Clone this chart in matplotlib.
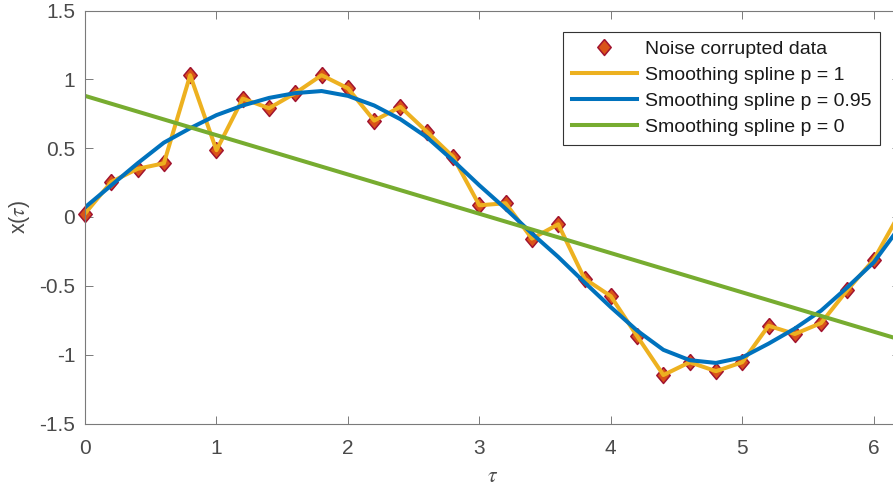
"""Smoothing spline fits of noise corrupted samples of a sine wave."""

import matplotlib
matplotlib.use("Agg")
import matplotlib.pyplot as plt

# sample positions and noisy samples (the p = 1 spline interpolates them)
tau = [0.0, 0.2, 0.4, 0.6, 0.8, 1.0, 1.2, 1.4, 1.6, 1.8, 2.0, 2.2, 2.4, 2.6, 2.8, 3.0,
       3.2, 3.4, 3.6, 3.8, 4.0, 4.2, 4.4, 4.6, 4.8, 5.0, 5.2, 5.4, 5.6, 5.8, 6.0, 6.2]
x_noisy = [0.025, 0.255, 0.35, 0.39, 1.03, 0.485, 0.86, 0.79, 0.90, 1.03, 0.935, 0.70,
           0.80, 0.62, 0.437, 0.085, 0.10, -0.157, -0.053, -0.448, -0.575, -0.865,
           -1.148, -1.055, -1.12, -1.055, -0.79, -0.85, -0.77, -0.53, -0.31, 0.03]

# p = 0.95 smoothing spline evaluated at the sample positions
x_p095 = [0.07, 0.23, 0.39, 0.54, 0.645, 0.74, 0.81, 0.865, 0.90, 0.915, 0.88, 0.81,
          0.71, 0.58, 0.41, 0.23, 0.06, -0.12, -0.29, -0.475, -0.655, -0.825,
          -0.965, -1.04, -1.06, -1.02, -0.92, -0.81, -0.68, -0.51, -0.33, -0.07]

# p = 0 smoothing spline is the least-squares line
tau_line = [0.0, 6.2]
x_p0 = [0.88, -0.89]

labels = ["Noise corrupted data", "Smoothing spline p = 1",
          "Smoothing spline p = 0.95", "Smoothing spline p = 0"]

TEXT = "#4a4a4a"
AXIS = "#7a7a7a"

plt.rcParams["font.family"] = ["Liberation Sans", "DejaVu Sans"]
plt.rcParams["mathtext.fontset"] = "stix"

W, H = 893, 488
fig = plt.figure(figsize=(W / 100, H / 100), dpi=100)
# right edge sits just past the figure border, as in the saved export
ax = fig.add_axes([85 / W, (H - 423.5) / H, 815 / W, 413 / H])

diamond = [(0, 1), (0.84, 0), (0, -1), (-0.84, 0), (0, 1)]
ax.plot(tau, x_noisy, linestyle="none", marker=diamond, markersize=11.5,
        markerfacecolor="#D95319", markeredgecolor="#A2142F", markeredgewidth=1.1,
        label=labels[0], clip_on=False)
ax.plot(tau, x_noisy, color="#EDB120", lw=2.9, label=labels[1])
ax.plot(tau, x_p095, color="#0072BD", lw=2.9, label=labels[2])
ax.plot(tau_line, x_p0, color="#77AC30", lw=2.9, label=labels[3])

ax.set_xlim(0, 6.2)
ax.set_ylim(-1.5, 1.5)
ax.set_xticks([0, 1, 2, 3, 4, 5, 6])
ax.set_yticks([-1.5, -1, -0.5, 0, 0.5, 1, 1.5])
ax.set_yticklabels(["-1.5", "-1", "-0.5", "0", "0.5", "1", "1.5"])

ax.tick_params(direction="in", length=5.8, width=0.7, color=AXIS,
               labelcolor=TEXT, labelsize=15, top=True, right=True)
ax.tick_params(axis="x", pad=11)
ax.tick_params(axis="y", pad=7)
for side in ax.spines.values():
    side.set_color(AXIS)
    side.set_linewidth(0.8)

ax.set_xlabel(r"$\tau$", fontsize=15.5, color=TEXT, labelpad=6)
ax.set_ylabel(r"x($\tau$)", fontsize=15.5, color=TEXT, labelpad=5)

leg = ax.legend(loc="upper right", bbox_to_anchor=((880 - 85) / 815, (423.5 - 31.7) / 413),
                borderaxespad=0, fontsize=14, frameon=True, fancybox=False,
                framealpha=1, edgecolor="#333333", handlelength=3.35,
                handletextpad=0.4, labelspacing=0.42, borderpad=0.46)
leg.get_frame().set_linewidth(0.8)
for t in leg.get_texts():
    t.set_color("#1a1a1a")

fig.savefig("out.png", dpi=100)
